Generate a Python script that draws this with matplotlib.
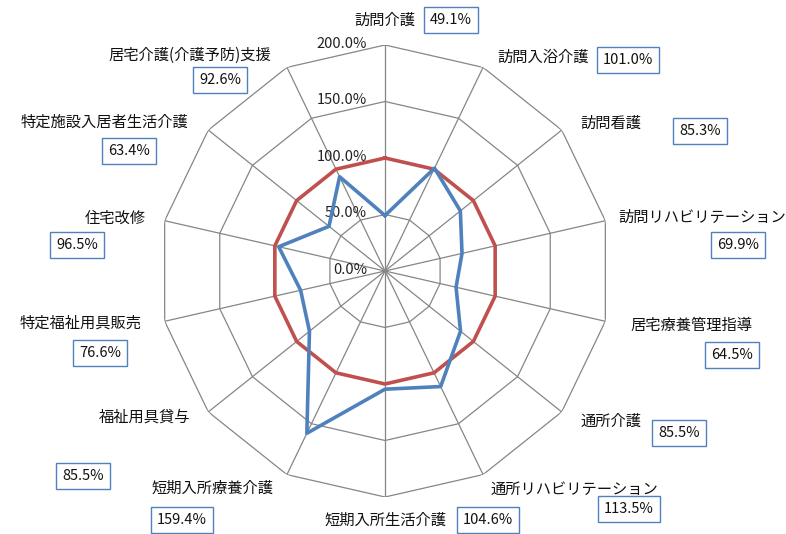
import numpy as np
import matplotlib
matplotlib.use("Agg")
import matplotlib.pyplot as plt

plt.rcParams['font.family'] = ['Noto Sans CJK JP', 'DejaVu Sans']

# data
categories = ['訪問介護', '訪問入浴介護', '訪問看護', '訪問リハビリテーション', '居宅療養管理指導',
              '通所介護', '通所リハビリテーション', '短期入所生活介護', '短期入所療養介護',
              '福祉用具貸与', '特定福祉用具販売', '住宅改修', '特定施設入居者生活介護',
              '居宅介護(介護予防)支援']
ratio = [49.1, 101.0, 85.3, 69.9, 64.5, 85.5, 113.5, 104.6, 159.4, 85.5, 76.6, 96.5, 63.4, 92.6]
baseline = [100.0] * len(categories)
ticks = [0, 50, 100, 150, 200]

# label positions in pixels (text center, box center)
label_pos = [(385, 20), (543, 57), (611, 123), (702, 217), (691, 325), (611, 421), (574, 489),
             (386, 520), (213, 488), (145, 417), (81, 323), (104, 122), (190, 55)]
label_pos.insert(11, (115, 218))
box_pos = [(451, 20), (628, 60), (700, 131), (738, 245), (732, 355), (679, 433), (629, 509),
           (488, 520), (182, 520), (83, 476), (100, 353), (77, 245), (129, 151), (220, 80)]

W, H = 786, 534
fig = plt.figure(figsize=(W / 100, H / 100), dpi=100)
cx, cy, R = 385, 271, 226
ax = fig.add_axes([(cx - R) / W, (H - cy - R) / H, 2 * R / W, 2 * R / H], projection='polar')
ax.set_theta_zero_location('N')
ax.set_theta_direction(-1)
ax.set_ylim(0, 200)
ax.axis('off')

n = len(categories)
theta = np.linspace(0, 2 * np.pi, n, endpoint=False)
theta_c = np.append(theta, theta[0])

grid_col = '#868686'
for t in ticks[1:]:
    ax.plot(theta_c, [t] * (n + 1), color=grid_col, lw=0.9, zorder=1)
for th in theta:
    ax.plot([th, th], [0, 200], color=grid_col, lw=0.9, zorder=1)

ax.plot(theta_c, baseline + baseline[:1], color='#c0504d', lw=2.6, zorder=3)
ax.plot(theta_c, ratio + ratio[:1], color='#4f81bd', lw=2.6, zorder=4)

for t in ticks:
    ax.annotate(f'{t:.1f}%', xy=(0, t), xytext=(-13, 1), textcoords='offset points',
                ha='right', va='center', fontsize=10.5, color='#222222')

for name, v, (lx, ly), (bx, by) in zip(categories, ratio, label_pos, box_pos):
    fig.text(lx / W, 1 - ly / H, name, ha='center', va='center', fontsize=11, color='#111111')
    fig.text(bx / W, 1 - by / H, f'{v:.1f}%', ha='center', va='center', fontsize=10.5,
             color='#111111',
             bbox=dict(boxstyle='square,pad=0.42', facecolor='white', edgecolor='#4f81bd', lw=1))

fig.savefig('out.png', dpi=100)
